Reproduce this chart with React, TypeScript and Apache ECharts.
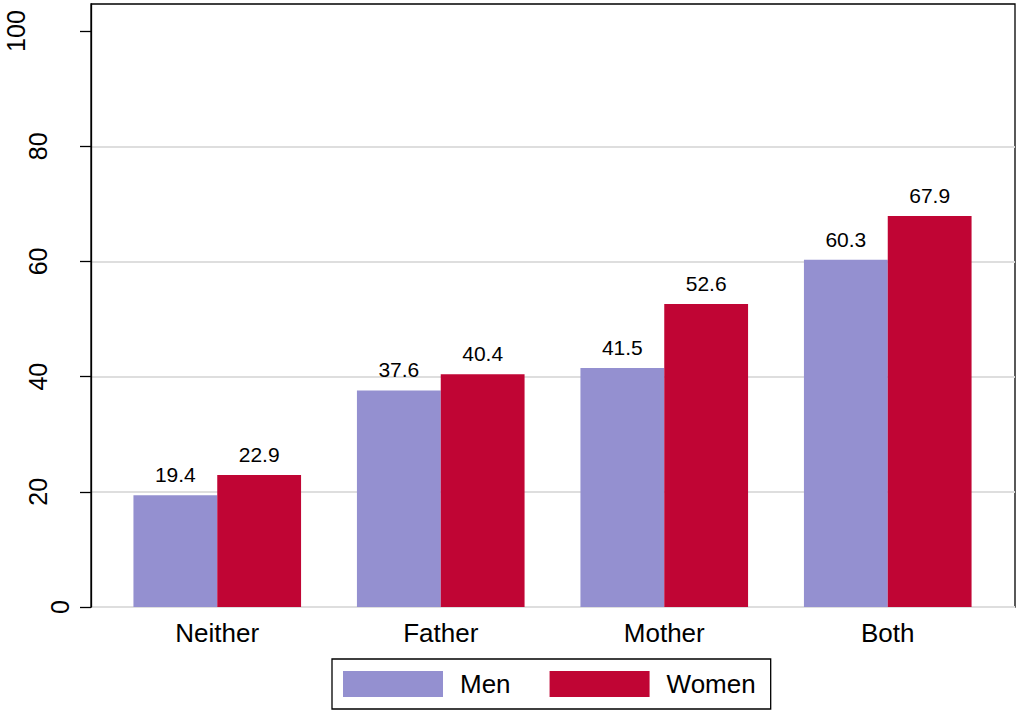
import React, { useEffect, useRef } from "react";
import * as echarts from "echarts";

const categories = ["Neither", "Father", "Mother", "Both"];
const menValues = [19.4, 37.6, 41.5, 60.3];
const womenValues = [22.9, 40.4, 52.6, 67.9];
const yTicks = [0, 20, 40, 60, 80, 100];
const seriesNames = ["Men", "Women"];

const FONT = "'Liberation Sans', Arial, Helvetica, sans-serif";
const MEN_COLOR = "#9490D0";
const WOMEN_COLOR = "#C00534";
const Y_MAX = 104.7;

export default function App() {
  const ref = useRef<HTMLDivElement>(null);
  useEffect(() => {
    if (!ref.current) return;
    const chart = echarts.init(ref.current, undefined, { renderer: "svg" });
    const gridColor = "#dedede";
    const yRich = {
      d1: { fontSize: 25, fontFamily: FONT, color: "#000", lineHeight: 26 },
      d2: { fontSize: 25, fontFamily: FONT, color: "#000", lineHeight: 71 },
      d3: { fontSize: 25, fontFamily: FONT, color: "#000", lineHeight: 114 },
    };
    const valueLabel = {
      show: true,
      position: "top",
      distance: 10,
      color: "#000",
      fontSize: 21,
      fontFamily: FONT,
      formatter: (p: any) => p.value.toFixed(1),
    };
    chart.setOption({
      animation: false,
      backgroundColor: "#ffffff",
      textStyle: { fontFamily: FONT },
      grid: [
        {
          left: 91,
          top: 4,
          width: 924,
          height: 603,
          show: true,
          borderColor: "#000",
          borderWidth: 1.3,
          backgroundColor: "#fff",
        },
        { left: 105.5, top: 4, width: 894, height: 603, show: false },
      ],
      xAxis: [
        { gridIndex: 0, type: "value", min: 0, max: 1, show: false },
        {
          gridIndex: 1,
          type: "category",
          data: categories,
          axisLine: { show: false },
          axisTick: { show: false },
          splitLine: { show: false },
          axisLabel: {
            color: "#000",
            fontSize: 26,
            fontFamily: FONT,
            margin: 13,
            interval: 0,
          },
        },
      ],
      yAxis: [
        {
          gridIndex: 0,
          type: "value",
          min: 0,
          max: Y_MAX,
          interval: 20,
          axisLine: { show: true, lineStyle: { color: "#000", width: 1.3 } },
          axisTick: {
            show: true,
            length: 11,
            inside: false,
            lineStyle: { color: "#000", width: 1.3 },
            customValues: yTicks,
          },
          axisLabel: {
            color: "#000",
            fontSize: 25,
            fontFamily: FONT,
            rotate: 90,
            margin: 18,
            customValues: yTicks,
            formatter: (v: number) => `{d${String(v).length}|${v}}`,
            rich: yRich,
          },
          splitLine: {
            show: true,
            lineStyle: {
              color: [gridColor, gridColor, gridColor, gridColor, gridColor, "transparent", "transparent"],
              width: 2,
            },
          },
        },
        { gridIndex: 1, type: "value", min: 0, max: Y_MAX, show: false, splitLine: { show: false } },
      ],
      legend: {
        left: 332,
        top: 659,
        orient: "horizontal",
        padding: [12, 15, 12, 11],
        borderColor: "#000",
        borderWidth: 1.3,
        itemWidth: 100,
        itemHeight: 26,
        itemGap: 39,
        icon: "rect",
        data: seriesNames,
        textStyle: {
          color: "#000",
          fontSize: 26,
          fontFamily: FONT,
          padding: [0, 0, 0, 12],
        },
      },
      series: [
        {
          name: seriesNames[0],
          type: "bar",
          xAxisIndex: 1,
          yAxisIndex: 1,
          data: menValues,
          barGap: "0%",
          barCategoryGap: "25%",
          itemStyle: { color: MEN_COLOR },
          label: valueLabel,
        },
        {
          name: seriesNames[1],
          type: "bar",
          xAxisIndex: 1,
          yAxisIndex: 1,
          data: womenValues,
          barGap: "0%",
          barCategoryGap: "25%",
          itemStyle: { color: WOMEN_COLOR },
          label: valueLabel,
        },
      ],
    });
    return () => chart.dispose();
  }, []);
  return (
    <div
      ref={ref}
      style={{ position: "fixed", left: 0, top: 0, width: 1017, height: 710, background: "#fff" }}
    />
  );
}
